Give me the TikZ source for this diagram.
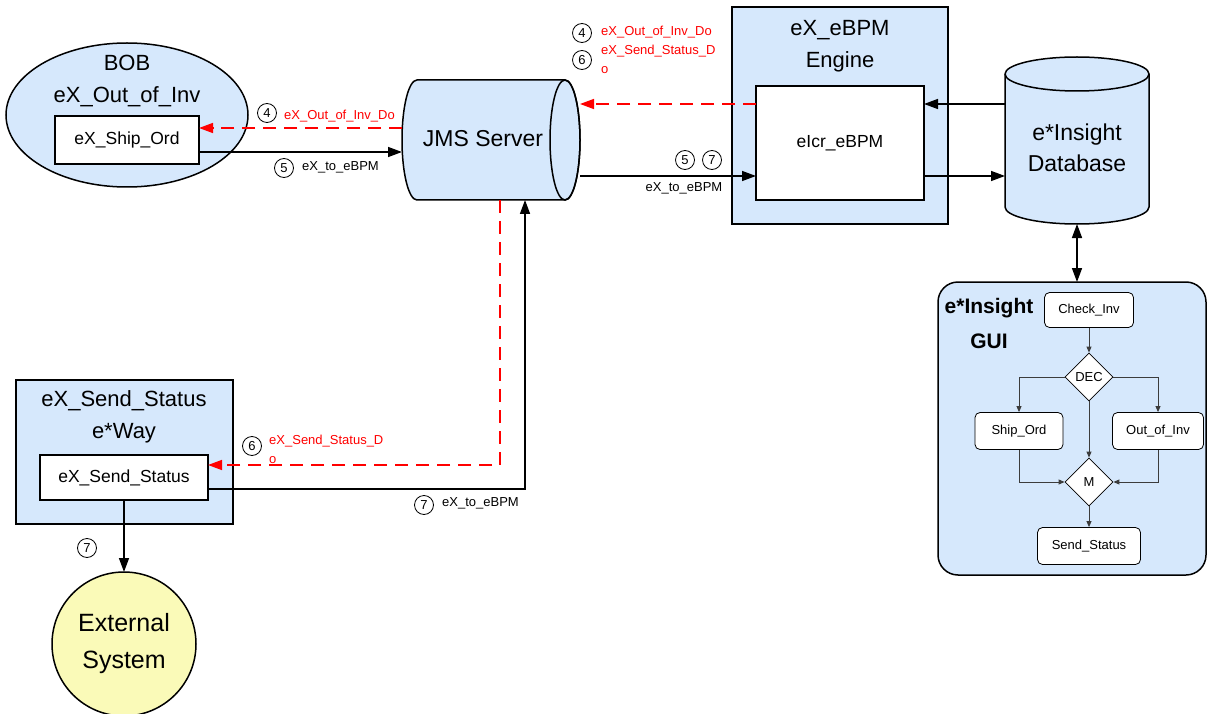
\documentclass[tikz,border=0pt]{standalone}
\usepackage{fontspec}
\setmainfont{Liberation Sans}
\usetikzlibrary{shapes.geometric,arrows.meta}
\definecolor{bluefill}{RGB}{214,232,252}
\definecolor{yellowfill}{RGB}{250,250,184}
\definecolor{guiline}{RGB}{60,60,60}
\begin{document}
\begin{tikzpicture}[x=1pt,y=-1pt,
  border/.style={draw, line width=1.5pt, inner sep=0pt, outer sep=0pt},
  bluebox/.style={border, fill=bluefill},
  whitebox/.style={border, fill=white},
  title/.style={align=center, font=\fontsize{22}{32}\selectfont},
  inner/.style={font=\fontsize{17.5}{20}\selectfont},
  small/.style={font=\fontsize{13}{19}\selectfont, inner sep=0pt},
  redtxt/.style={small, text=red, align=left},
  num/.style={circle, draw, line width=0.8pt, inner sep=0pt, minimum size=19pt, font=\fontsize{13}{13}\selectfont},
  conn/.style={line width=1.5pt, -{Triangle[length=14pt,width=10pt]}},
  reddash/.style={draw=red, line width=1.5pt, dash pattern=on 13pt off 8pt, -{Triangle[length=14pt,width=10pt]}, red},
  guibox/.style={draw, fill=white, line width=0.8pt, rounded corners=5pt, inner sep=0pt, font=\fontsize{13}{15}\selectfont},
  guidia/.style={diamond, draw, fill=white, line width=0.8pt, inner sep=0pt, minimum size=48pt, font=\fontsize{13}{15}\selectfont},
  guiarrow/.style={draw=guiline, line width=0.9pt, -{Triangle[length=6pt,width=5pt]}}
]
\useasboundingbox (0,0) rectangle (1207,714);

% BOB
\node[ellipse, border, fill=bluefill, minimum width=242pt, minimum height=144pt] (bob) at (127,115) {};
\node[title] (bobtitle) at (127,81) {BOB\\eX\_Out\_of\_Inv};
\node[whitebox, inner, minimum width=144pt, minimum height=48pt] (shipord) at (127,140) {eX\_Ship\_Ord};

% JMS server cylinder
\path[fill=bluefill, draw, line width=1.5pt] (417,80) -- (565,80)
  arc[start angle=90, end angle=-90, x radius=15pt, y radius=60pt]
  -- (417,200)
  arc[start angle=-90, end angle=-270, x radius=15pt, y radius=60pt] -- cycle;
\draw[line width=1.5pt] (565,140) ellipse [x radius=15pt, y radius=60pt];
\node[minimum width=178pt, minimum height=120pt, inner sep=0pt, outer sep=0pt] (jms) at (491,140) {};
\node[font=\fontsize{23}{26}\selectfont] (jmslabel) at (483,139) {JMS Server};

% eBPM engine
\node[bluebox, minimum width=216pt, minimum height=217pt] (ebpm) at (840,115.5) {};
\node[title] (ebpmtitle) at (840,46) {eX\_eBPM\\Engine};
\node[whitebox, inner, minimum width=168pt, minimum height=114pt] (eicr) at (840,143) {eIcr\_eBPM};

% Database cylinder
\path[fill=bluefill, draw, line width=1.5pt] (1005,74) -- (1005,207)
  arc[start angle=180, end angle=360, x radius=72pt, y radius=17pt]
  -- (1149,74)
  arc[start angle=0, end angle=180, x radius=72pt, y radius=17pt] -- cycle;
\draw[line width=1.5pt] (1005,74) arc[start angle=180, end angle=360, x radius=72pt, y radius=17pt];
\node[minimum width=144pt, minimum height=167pt, inner sep=0pt, outer sep=0pt] (db) at (1077,140.5) {};
\node[align=center, font=\fontsize{23}{31}\selectfont] (dblabel) at (1077,148) {e*Insight\\Database};

% GUI
\node[bluebox, rounded corners=20pt, minimum width=268pt, minimum height=293pt] (gui) at (1072,428.5) {};
\node[align=center, font=\bfseries\fontsize{21}{35}\selectfont] (guititle) at (989,323) {e*Insight\\GUI};
\node[guibox, minimum width=89pt, minimum height=35pt] (check) at (1089,310) {Check\_Inv};
\node[guidia] (dec) at (1089,377) {DEC};
\node[guibox, minimum width=88pt, minimum height=37pt] (ship) at (1019,431) {Ship\_Ord};
\node[guibox, minimum width=91pt, minimum height=37pt] (outinv) at (1158,431) {Out\_of\_Inv};
\node[guidia] (m) at (1089,482) {M};
\node[guibox, minimum width=103pt, minimum height=37pt] (send) at (1089,546) {Send\_Status};
\draw[guiarrow] (check.south) -- (dec.north);
\draw[guiarrow] (dec.west) -| (ship.north);
\draw[guiarrow] (dec.east) -| (outinv.north);
\draw[guiarrow] (dec.south) -- (m.north);
\draw[guiarrow] (ship.south) |- (m.west);
\draw[guiarrow] (outinv.south) |- (m.east);
\draw[guiarrow] (m.south) -- (send.north);

% Send status e*Way
\node[bluebox, minimum width=217pt, minimum height=144pt] (sendway) at (124.5,452) {};
\node[title] (sendwaytitle) at (124,417) {eX\_Send\_Status\\e*Way};
\node[whitebox, inner, minimum width=168pt, minimum height=45pt] (sendstat) at (124,477.5) {eX\_Send\_Status};

% External system
\node[circle, border, fill=yellowfill, minimum size=144pt, align=center, font=\fontsize{25}{37}\selectfont] (ext) at (124,644) {\raisebox{-3pt}{External}\\\raisebox{-3pt}{System}};

% Connectors
\draw[reddash] ([yshift=12pt]jms.west) -- ([yshift=12pt]shipord.east);
\draw[conn] ([yshift=-12pt]shipord.east) -- ([yshift=-12pt]shipord.east -| jms.west);
\draw[reddash] ([yshift=39pt]eicr.west) -- ([yshift=39pt]eicr.west -| jms.east);
\draw[conn] ([yshift=-33pt]eicr.west -| jms.east) -- ([yshift=-33pt]eicr.west);
\draw[conn] ([yshift=39pt]eicr.east -| db.west) -- ([yshift=39pt]eicr.east);
\draw[conn] ([yshift=-33pt]eicr.east) -- ([yshift=-33pt]eicr.east -| db.west);
\draw[conn, {Triangle[length=14pt,width=10pt]}-{Triangle[length=14pt,width=10pt]}] (db.south) -- (db.south |- gui.north);
\coordinate (rcorner) at (500,465);
\coordinate (bcorner) at (525,489);
\draw[reddash] (jms.south -| rcorner) -- (rcorner) -- (rcorner -| sendstat.east);
\draw[conn] (bcorner -| sendstat.east) -- (bcorner) -- (jms.south -| bcorner);
\draw[conn] (sendstat.south) -- (ext.north);

% Labels
\node[num] (n4a) at (267,113) {4};
\node[redtxt, anchor=west] (l4a) at (284,116) {eX\_Out\_of\_Inv\_Do};
\node[num] (n5a) at (284,168) {5};
\node[small, anchor=west] (l5a) at (302,167) {eX\_to\_eBPM};
\node[num] (n4b) at (582,33) {4};
\node[redtxt, anchor=west] (l4b) at (601,32) {eX\_Out\_of\_Inv\_Do};
\node[num] (n6b) at (582,60) {6};
\node[redtxt, anchor=west] (l6b) at (601,59) {eX\_Send\_Status\_D\\o};
\node[num] (n5b) at (685,160) {5};
\node[num] (n7b) at (712,160) {7};
\node[small] (l5b) at (684,188) {eX\_to\_eBPM};
\node[num] (n6c) at (252,446) {6};
\node[redtxt, anchor=west] (l6c) at (269,449) {eX\_Send\_Status\_D\\o};
\node[num] (n7c) at (424,505) {7};
\node[small, anchor=west] (l7c) at (442,503) {eX\_to\_eBPM};
\node[num] (n7d) at (87,548) {7};
\end{tikzpicture}
\end{document}
